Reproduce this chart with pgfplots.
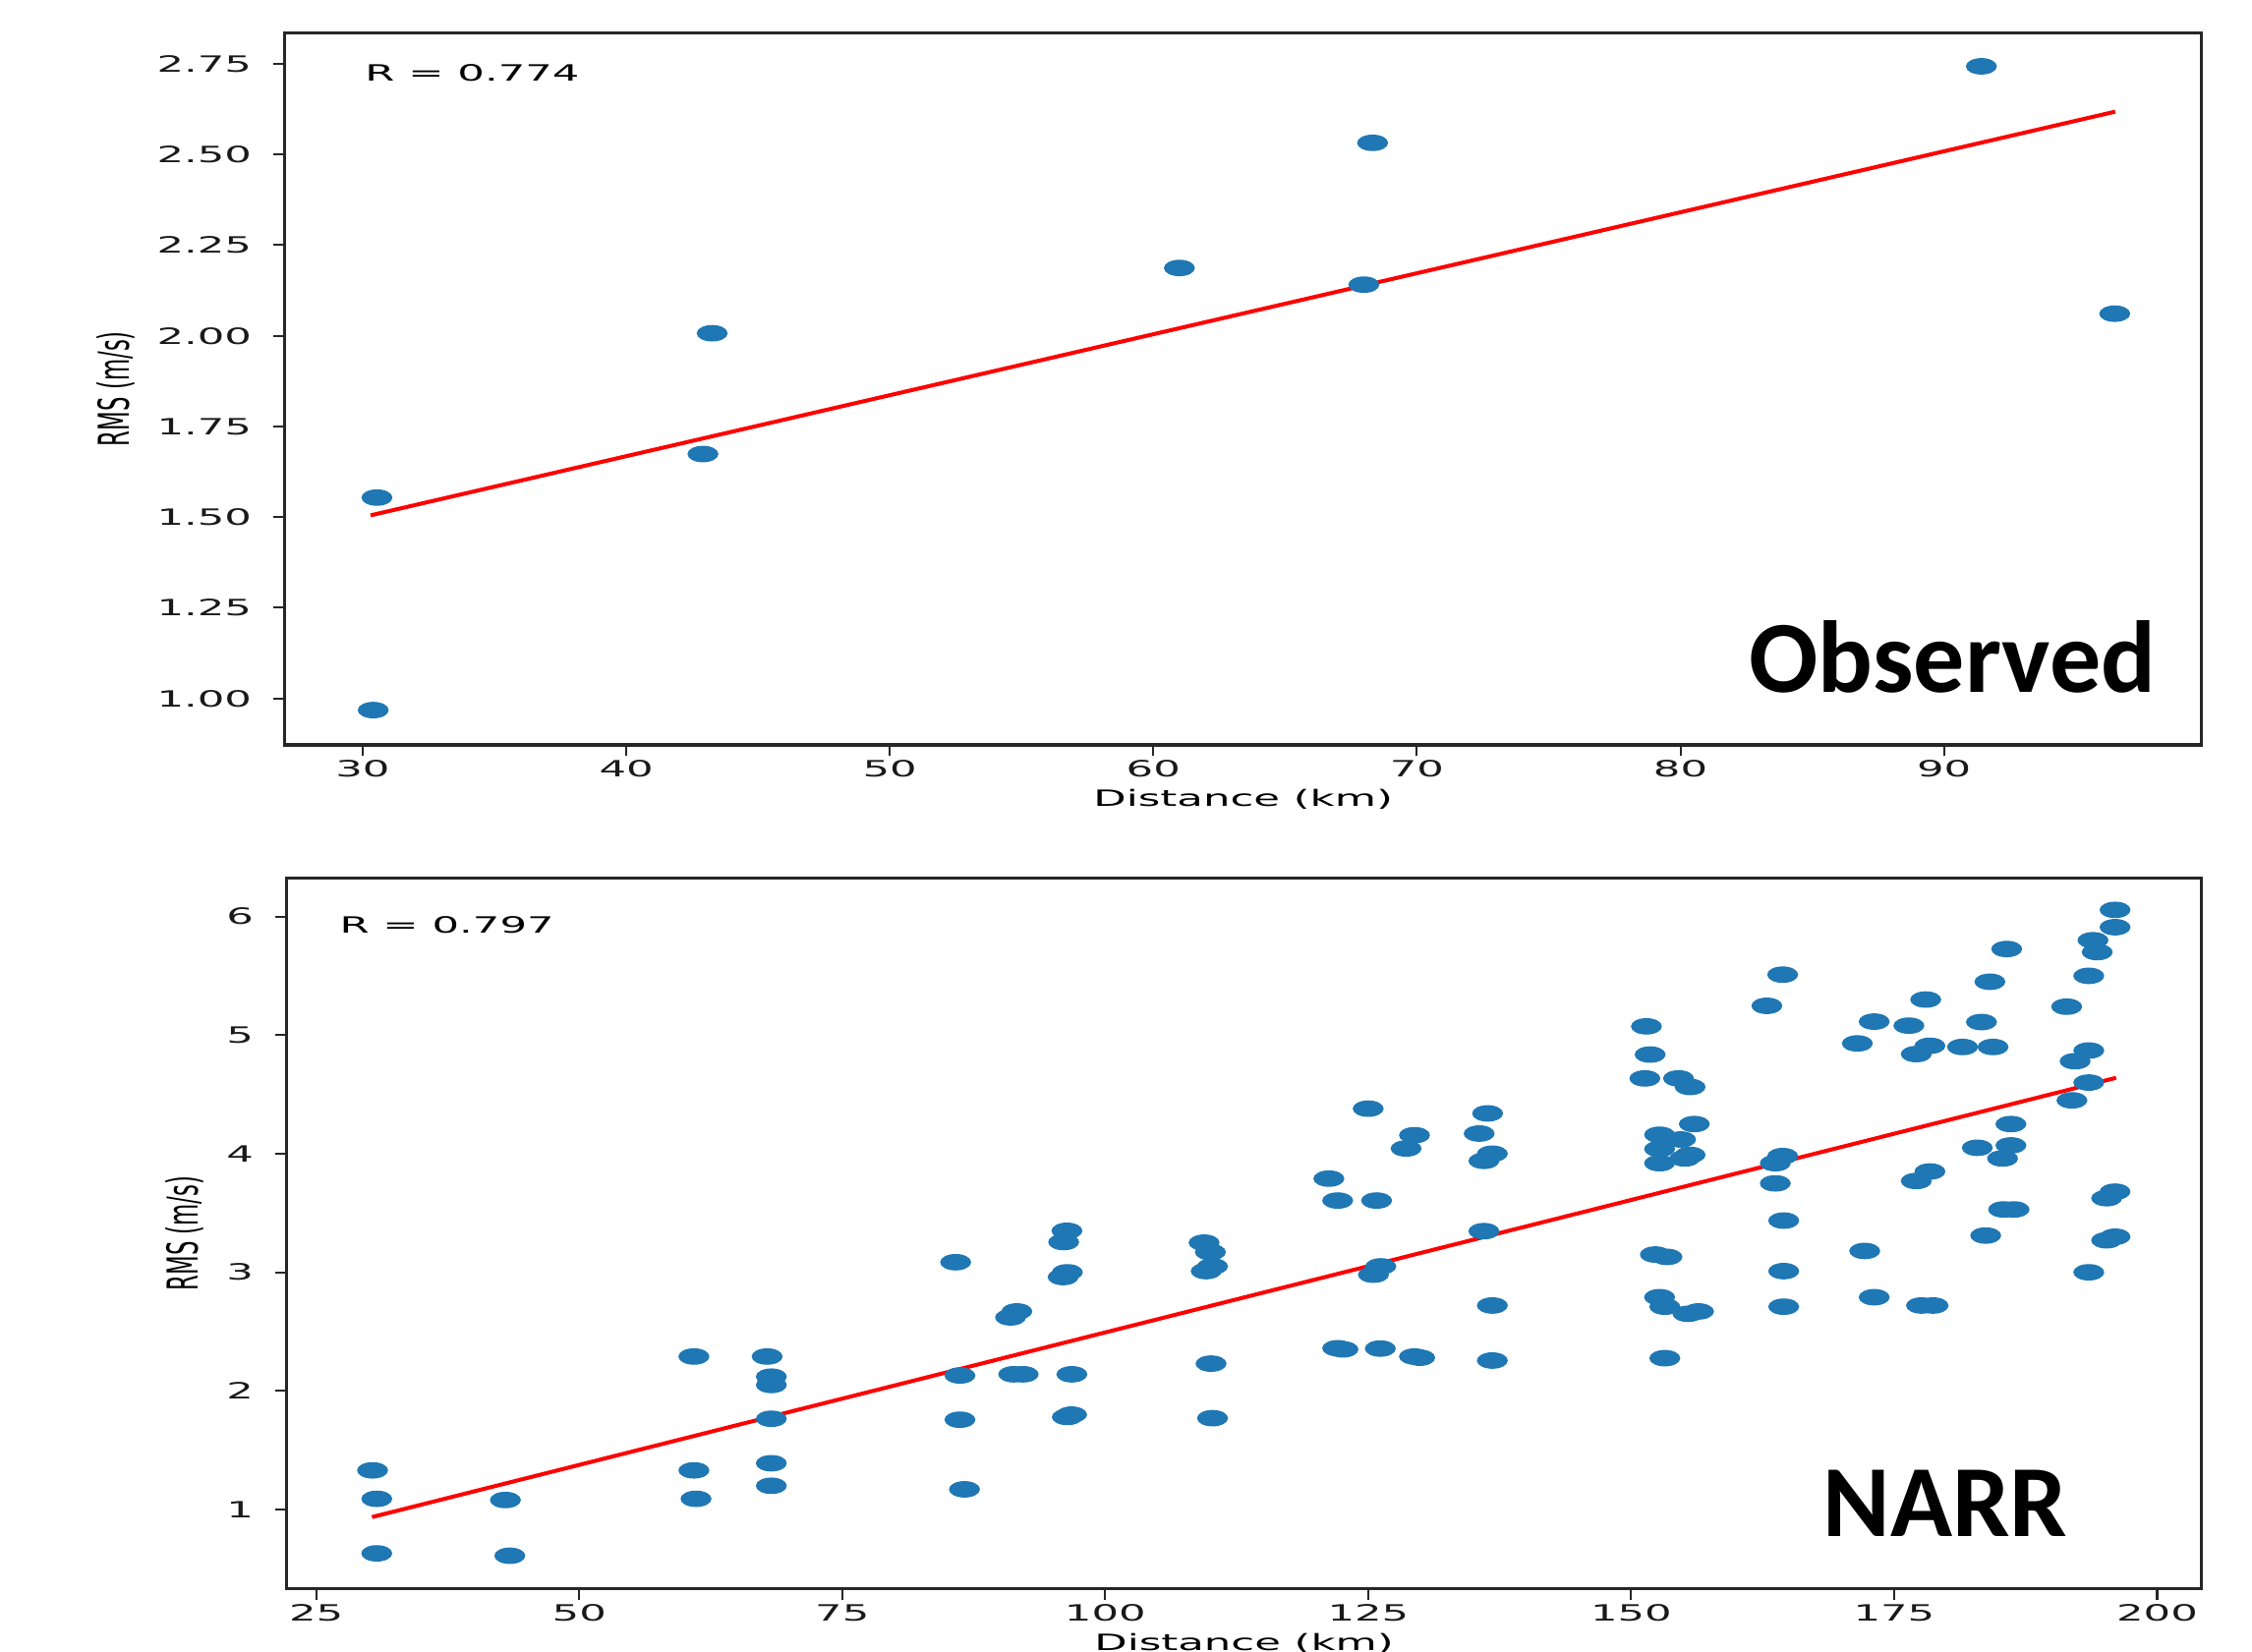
\documentclass[border=0pt]{standalone}
\usepackage{fontspec}
\usepackage{graphicx}
\usepackage{pgfplots}
\pgfplotsset{compat=1.18}
\setmainfont{DejaVu Sans}
\newfontfamily\wf[FakeStretch=1.9]{DejaVu Sans}
\newfontfamily\calfont{Carlito}
\definecolor{mplblue}{HTML}{1F77B4}
\definecolor{spine}{HTML}{262626}
\pgfplotsset{
  myax/.style={
    scale only axis,
    anchor=south west,
    axis line style={spine, line width=0.9pt},
    tick pos=left,
    tick align=outside,
    major tick length=0.12cm,
    every tick/.style={spine, line width=0.6pt},
    ticklabel style={font=\wf\fontsize{6.8}{8}\selectfont, text=black!90},
    xticklabel style={yshift=0.08cm},
    yticklabel style={xshift=-0.11cm},
    /pgf/number format/assume math mode=true,
    xlabel style={font=\wf\fontsize{6.8}{8}\selectfont, at={(axis description cs:0.5,0)}, anchor=north, inner sep=0pt, yshift=-0.47cm},
    ylabel style={font=\fontsize{6.8}{8}\selectfont, anchor=center, inner sep=0pt},
    xlabel={Distance (km)},
    ylabel={\scalebox{1}[1.9]{RMS (m/s)}},
  },
  pts/.style={only marks, mark=*, color=mplblue, mark size=2.3pt, mark options={xscale=1.95, draw=none, fill=mplblue}},
  fit/.style={red, line width=1.2pt, no marks},
}
\begin{document}
\begin{tikzpicture}
\useasboundingbox (0,0) rectangle (24cm,17.602cm);
% ---------- Observed ----------
\begin{axis}[myax,
  at={(3.0367cm,9.6612cm)}, width=20.424cm, height=7.593cm,
  xmin=27.05, xmax=99.77, ymin=0.872, ymax=2.836,
  xtick={30,40,50,60,70,80,90},
  ytick={1.00,1.25,1.50,1.75,2.00,2.25,2.50,2.75},
  yticklabel style={/pgf/number format/.cd, fixed, fixed zerofill, precision=2},
  ylabel style={at={(axis description cs:-0.088,0.5)}},
]
\addplot[pts] coordinates {
(30.54,1.554) (30.40,0.968) (43.26,2.007) (42.91,1.674) (60.99,2.187)
(68.32,2.532) (67.99,2.141) (91.42,2.743) (96.48,2.061)
};
\addplot[fit] coordinates {(30.3,1.505) (96.5,2.618)};
\node[anchor=west, inner sep=0pt, font=\wf\fontsize{6.8}{8}\selectfont] at (axis description cs:0.0415,0.944) {R = 0.774};
\node[anchor=base east, inner sep=0pt, font=\calfont\bfseries\fontsize{31}{31}\selectfont] at (axis description cs:0.9766,0.0742) {Observed};
\end{axis}
% ---------- NARR ----------
\begin{axis}[myax,
  at={(3.0566cm,0.6643cm)}, width=20.403cm, height=7.581cm,
  xmin=22.2, xmax=204.2, ymin=0.33, ymax=6.327,
  xtick={25,50,75,100,125,150,175,200},
  ytick={1,2,3,4,5,6},
  ylabel style={at={(axis description cs:-0.0533,0.5)}},
]
\addplot[pts] coordinates {
(30.35,1.33) (30.75,1.09) (30.75,0.63)
(42.98,1.08) (43.4,0.61)
(60.9,2.29) (60.9,1.33) (61.1,1.09)
(67.86,2.29) (68.26,2.12) (68.26,2.05) (68.26,1.765) (68.26,1.39) (68.26,1.20)
(85.78,3.085) (86.19,2.13) (86.19,1.757) (86.62,1.17)
(91.0,2.62) (91.6,2.67) (91.3,2.14) (92.2,2.14)
(96.36,3.35) (96.05,3.255) (96.0,2.96) (96.4,3.0) (96.83,2.14) (96.4,1.78) (96.8,1.80)
(109.4,3.25) (110.0,3.17) (109.6,3.01) (110.2,3.05) (110.06,2.23) (110.2,1.77)
(121.26,3.79) (122.1,3.605) (122.1,2.36) (122.6,2.35)
(125.0,4.38) (125.8,3.605) (126.15,2.357) (125.5,2.98) (126.2,3.05)
(128.6,4.044) (129.4,4.156) (129.4,2.29) (129.9,2.28)
(136.35,4.34) (135.55,4.17) (136.0,3.94) (136.8,4.0) (136.0,3.347) (136.8,2.72) (136.8,2.256)
(151.45,5.074) (151.8,4.836) (151.3,4.635) (154.5,4.635) (155.6,4.563) (156.0,4.25)
(152.7,4.16) (152.7,4.04) (152.7,3.92) (154.7,4.12) (155.6,3.99) (155.1,3.96)
(152.3,3.15) (153.4,3.13) (152.7,2.79) (153.2,2.71) (155.4,2.65) (156.4,2.67) (153.2,2.276)
(162.9,5.247) (164.4,5.51) (164.4,3.98) (163.7,3.92) (163.7,3.75) (164.5,3.436) (164.5,3.01) (164.5,2.71)
(171.5,4.93) (172.2,3.18) (173.1,5.114) (173.1,2.79) (176.4,5.08) (178.0,5.30) (177.1,4.84) (178.4,4.91)
(177.1,3.77) (178.4,3.85) (177.6,2.72) (178.7,2.72)
(181.5,4.90) (184.4,4.90) (183.3,5.11) (184.1,5.45) (185.7,5.726) (182.9,4.05) (185.3,3.96) (186.1,4.07)
(186.1,4.25) (185.4,3.53) (186.4,3.53) (183.7,3.31)
(191.4,5.24) (193.5,5.50) (193.9,5.80) (194.3,5.70) (196.0,6.056) (196.0,5.91) (192.2,4.78) (193.5,4.87)
(193.5,4.60) (191.9,4.45) (195.2,3.625) (196.0,3.68) (195.2,3.27) (196.0,3.30) (193.5,3.0)
};
\addplot[fit] coordinates {(30.3,0.936) (196.1,4.64)};
\node[anchor=west, inner sep=0pt, font=\wf\fontsize{6.8}{8}\selectfont] at (axis description cs:0.0273,0.934) {R = 0.797};
\node[anchor=base east, inner sep=0pt, font=\calfont\bfseries\fontsize{31}{31}\selectfont] at (axis description cs:0.9305,0.0737) {NARR};
\end{axis}
\end{tikzpicture}
\end{document}
